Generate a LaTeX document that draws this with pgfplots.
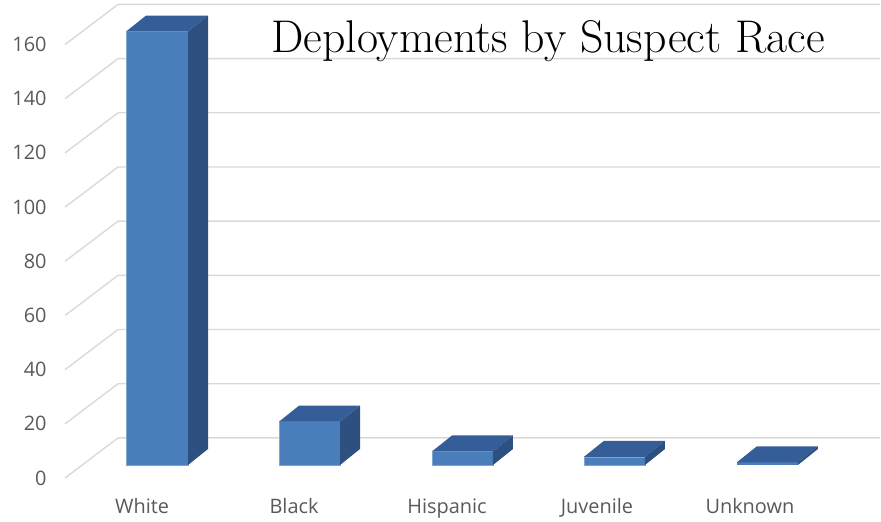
\documentclass[border=0pt]{standalone}
\usepackage{pgfplots}
\pgfplotsset{compat=1.18}
\usepackage{fontspec}
\newfontfamily\ticksfont{Open Sans}
\definecolor{gridc}{HTML}{D9D9D9}
\definecolor{frontc}{HTML}{4A7EBB}
\definecolor{sidec}{HTML}{2D5081}
\definecolor{topc}{HTML}{355E98}
\definecolor{tickc}{HTML}{595959}
\begin{document}
\begin{tikzpicture}
\begin{axis}[
  scale only axis, width=881bp, height=519bp,
  xmin=0, xmax=881, ymin=-19.93, ymax=171.59,
  axis line style={draw=none}, clip=false,
  major tick length=0pt,
  xtick={142,294,447,597,750},
  xticklabels={White,Black,Hispanic,Juvenile,Unknown},
  ytick={-4.8,15.2,35.2,55.2,75.2,95.2,115.2,135.2,155.2},
  yticklabels={0,20,40,60,80,100,120,140,160},
  xticklabel style={font=\ticksfont\fontsize{20}{24}\selectfont, text=tickc, yshift=24bp},
  yticklabel style={font=\ticksfont\fontsize{20}{24}\selectfont, text=tickc, xshift=50bp},
  /pgf/number format/assume math mode=true,
]
% gridlines (front diagonal + back wall)
\addplot[gridc, line width=1.4bp] coordinates {(65,-4.8) (118,10) (880,10)};
\addplot[gridc, line width=1.4bp] coordinates {(65,15.2) (118,30) (880,30)};
\addplot[gridc, line width=1.4bp] coordinates {(65,35.2) (118,50) (880,50)};
\addplot[gridc, line width=1.4bp] coordinates {(65,55.2) (118,70) (880,70)};
\addplot[gridc, line width=1.4bp] coordinates {(65,75.2) (118,90) (880,90)};
\addplot[gridc, line width=1.4bp] coordinates {(65,95.2) (118,110) (880,110)};
\addplot[gridc, line width=1.4bp] coordinates {(65,115.2) (118,130) (880,130)};
\addplot[gridc, line width=1.4bp] coordinates {(65,135.2) (118,150) (880,150)};
\addplot[gridc, line width=1.4bp] coordinates {(65,155.2) (118,170) (880,170)};
% White = 160
\addplot[fill=frontc, draw=frontc!70!white, line width=0.6bp] coordinates {(126,0) (188,0) (188,160) (126,160)} --cycle;
\addplot[fill=topc, draw=none] coordinates {(126,160) (188,160) (208,165.9) (146,165.9)} --cycle;
\addplot[fill=sidec, draw=none] coordinates {(188,0) (208,5.9) (208,165.9) (188,160)} --cycle;
% Black = 16
\addplot[fill=frontc, draw=frontc!70!white, line width=0.6bp] coordinates {(279,0) (340,0) (340,16) (279,16)} --cycle;
\addplot[fill=topc, draw=none] coordinates {(279,16) (340,16) (360,21.9) (299,21.9)} --cycle;
\addplot[fill=sidec, draw=none] coordinates {(340,0) (360,5.9) (360,21.9) (340,16)} --cycle;
% Hispanic = 5
\addplot[fill=frontc, draw=frontc!70!white, line width=0.6bp] coordinates {(432,0) (493,0) (493,5) (432,5)} --cycle;
\addplot[fill=topc, draw=none] coordinates {(432,5) (493,5) (513,10.9) (452,10.9)} --cycle;
\addplot[fill=sidec, draw=none] coordinates {(493,0) (513,5.9) (513,10.9) (493,5)} --cycle;
% Juvenile = 3
\addplot[fill=frontc, draw=frontc!70!white, line width=0.6bp] coordinates {(584,0) (645,0) (645,3) (584,3)} --cycle;
\addplot[fill=topc, draw=none] coordinates {(584,3) (645,3) (665,8.9) (604,8.9)} --cycle;
\addplot[fill=sidec, draw=none] coordinates {(645,0) (665,5.9) (665,8.9) (645,3)} --cycle;
% Unknown = 1
\addplot[fill=frontc, draw=none] coordinates {(737,0) (798,0) (798,1) (737,1)} --cycle;
\addplot[fill=topc, draw=none] coordinates {(737,1) (798,1) (818,6.9) (757,6.9)} --cycle;
\addplot[fill=sidec, draw=none] coordinates {(798,0) (818,5.9) (818,6.9) (798,1)} --cycle;
% title
\node[anchor=base west, inner sep=0pt, font=\fontsize{46}{52}\selectfont] at (axis cs:271,152.4) {Deployments by Suspect Race};
\end{axis}
\end{tikzpicture}
\end{document}
